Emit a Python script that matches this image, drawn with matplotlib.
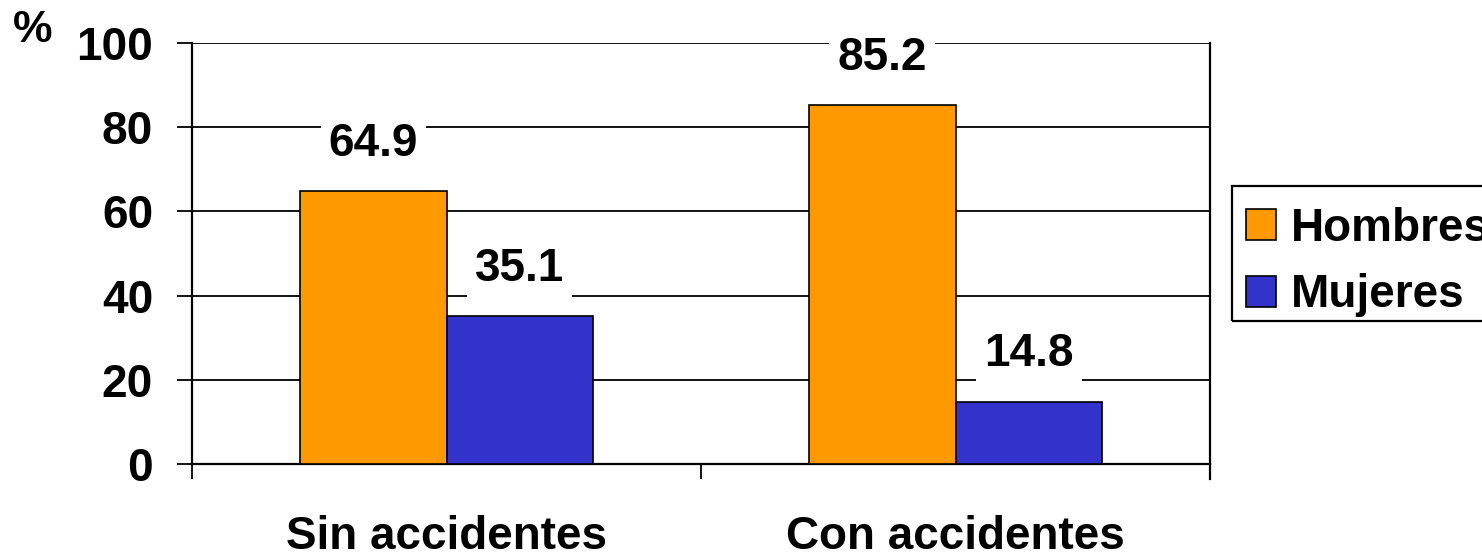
import matplotlib
matplotlib.use("Agg")
import matplotlib.pyplot as plt
from matplotlib.patches import Rectangle
import numpy as np

plt.rcParams["font.family"] = ["Liberation Sans", "DejaVu Sans"]
plt.rcParams["font.weight"] = "bold"

CATEGORIES = ["Sin accidentes", "Con accidentes"]
SERIES = ["Hombres", "Mujeres"]
HOMBRES = [64.9, 85.2]
MUJERES = [35.1, 14.8]
COLORS = ["#FF9900", "#3333CC"]
Y_TICKS = [0, 20, 40, 60, 80, 100]

BAR_W = 0.287
FS = 33

W, H = 1482, 554
fig = plt.figure(figsize=(W / 100, H / 100), dpi=100)
ax = fig.add_axes([192 / W, 1 - 464 / H, (1210 - 192) / W, (464 - 43) / H])

centers = np.arange(len(CATEGORIES)) + 0.5
for i, (vals, color, name) in enumerate(zip([HOMBRES, MUJERES], COLORS, SERIES)):
    xs = centers + (i - 0.5) * BAR_W
    ax.bar(xs, vals, width=BAR_W, color=color, edgecolor="black", linewidth=1.2,
           label=name, zorder=3)
    for x, v in zip(xs, vals):
        ax.annotate(f"{v:.1f}", xy=(x, v), xytext=(0, 34), textcoords="offset points",
                    ha="center", va="center", fontsize=FS, fontweight="bold",
                    bbox=dict(boxstyle="square,pad=0.18", facecolor="white", edgecolor="none"),
                    zorder=5)

ax.set_xlim(0, 2)
ax.set_ylim(0, 100)
ax.set_yticks(Y_TICKS)
ax.set_yticklabels([str(t) for t in Y_TICKS], fontsize=FS, fontweight="bold")
ax.yaxis.grid(True, color="black", linewidth=1.3, zorder=0)
ax.set_axisbelow(True)

ax.set_xticks([0, 1, 2])
ax.set_xticklabels(["", "", ""])
ax.set_xticks(centers, minor=True)
ax.set_xticklabels(CATEGORIES, minor=True, fontsize=FS, fontweight="bold")
ax.tick_params(axis="x", which="minor", length=0, pad=37)
ax.tick_params(axis="x", which="major", direction="out", length=11, width=1.3)
ax.tick_params(axis="y", direction="out", length=11, width=1.3, pad=17)

for s in ["left", "right", "bottom"]:
    ax.spines[s].set_linewidth(1.6)
ax.spines["top"].set_visible(False)
ax.spines["left"].set_bounds(0, 100)
ax.spines["right"].set_bounds(0, 100)

# right edge tick below the axis
ax.plot([2, 2], [0, -3.6], color="black", linewidth=1.6, clip_on=False)

fig.text(33 / W, 1 - 31 / H, "%", ha="center", va="center", fontsize=FS - 1, fontweight="bold")

# legend entries without frame, frame drawn as its own box (runs off the right edge)
ax.legend(loc="upper left", bbox_to_anchor=(1232 / W, 1 - 193 / H),
          bbox_transform=fig.transFigure, frameon=False,
          handlelength=0.66, handleheight=0.66, handletextpad=0.33,
          labelspacing=0.49, borderpad=0.3, borderaxespad=0,
          prop=dict(size=FS, weight="bold"))
fig.patches.append(Rectangle((1232 / W, 1 - 321 / H), 300 / W, (321 - 186) / H,
                             transform=fig.transFigure, facecolor="none",
                             edgecolor="black", linewidth=1.6))

fig.savefig("out.png", dpi=100)
